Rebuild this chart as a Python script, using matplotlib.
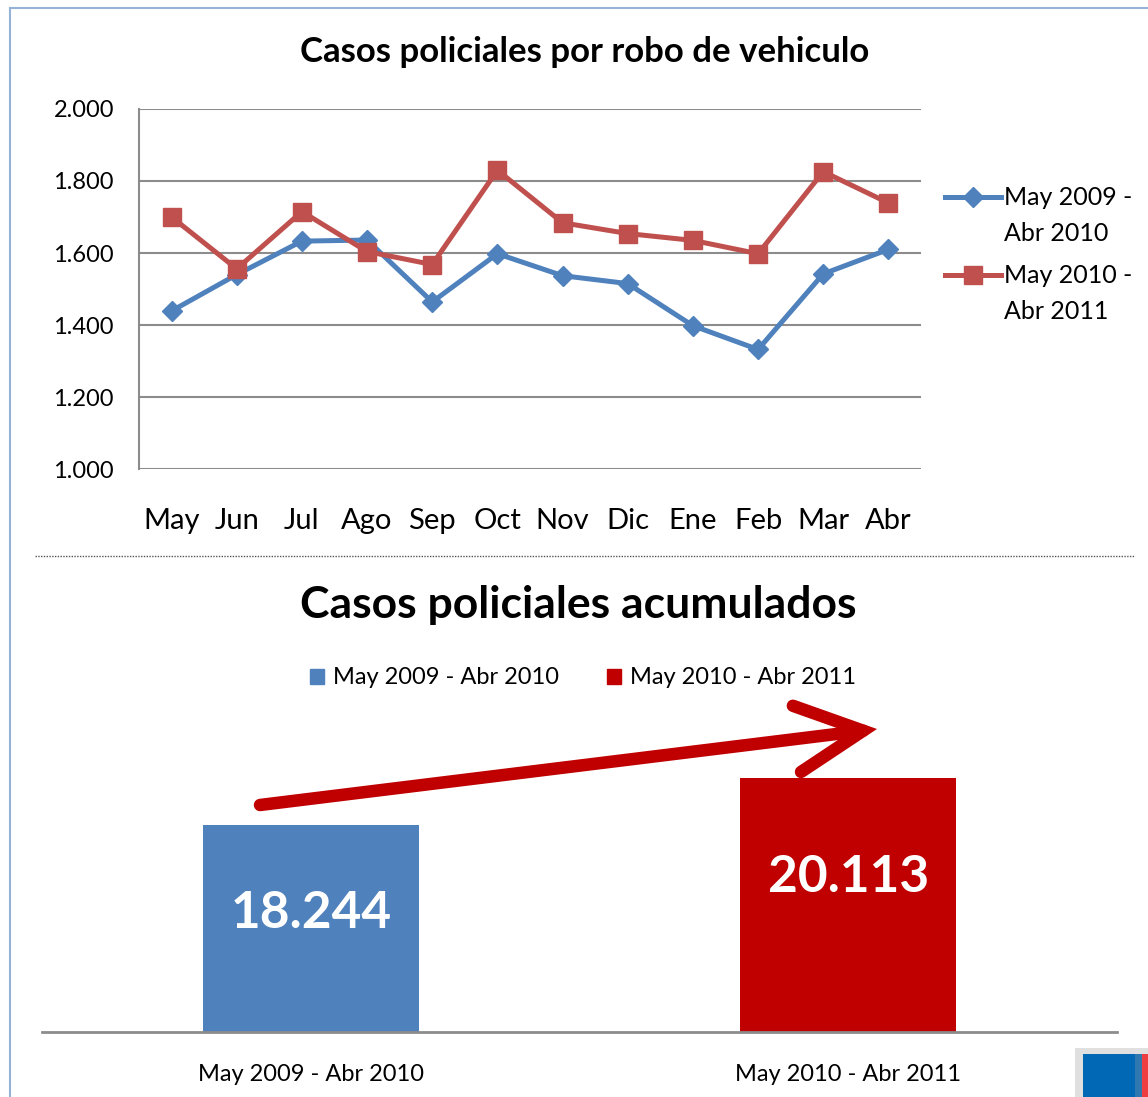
import matplotlib
matplotlib.use("Agg")
import matplotlib.pyplot as plt
from matplotlib.patches import Rectangle, FancyArrowPatch
from matplotlib.lines import Line2D
from matplotlib.ticker import FuncFormatter

plt.rcParams['font.family'] = ['Lato', 'DejaVu Sans']

months = ['May', 'Jun', 'Jul', 'Ago', 'Sep', 'Oct', 'Nov', 'Dic', 'Ene', 'Feb', 'Mar', 'Abr']
serie_2009 = [1439, 1540, 1633, 1636, 1464, 1598, 1537, 1515, 1398, 1332, 1542, 1610]
serie_2010 = [1700, 1556, 1715, 1604, 1568, 1830, 1684, 1654, 1635, 1598, 1826, 1739]
legend_top = ['May 2009 -\nAbr 2010', 'May 2010 -\nAbr 2011']
periodos = ['May 2009 - Abr 2010', 'May 2010 - Abr 2011']
totales = [18244, 20113]

W, H = 1148, 1097
fig = plt.figure(figsize=(W / 100, H / 100), dpi=100)


def px_axes(x0, y0, x1, y1):
    # pixel box (top-left origin) -> figure fraction
    return fig.add_axes([x0 / W, 1 - y1 / H, (x1 - x0) / W, (y1 - y0) / H])


def fx(px):
    return px / W


def fy(py):
    return 1 - py / H


blue = '#4F81BD'
red = '#C0504D'
dark_red = '#C00000'

# ---- top line chart
ax = px_axes(139, 109, 921, 469)
x = range(len(months))
ax.plot(x, serie_2009, color=blue, lw=3.6, marker='D', ms=10)
ax.plot(x, serie_2010, color=red, lw=3.6, marker='s', ms=13)
ax.set_xlim(-0.5, 11.5)
ax.set_ylim(1000, 2000)
ax.set_yticks(range(1000, 2001, 200))
ax.yaxis.set_major_formatter(FuncFormatter(lambda v, p: f'{int(v):,}'.replace(',', '.')))
ax.set_xticks(list(x))
ax.set_xticklabels(months, fontsize=21)
ax.tick_params(axis='y', labelsize=17, length=0, pad=18)
ax.tick_params(axis='x', length=0, pad=28)
ax.grid(axis='y', color='#8c8c8c', lw=1.5)
ax.set_axisbelow(True)
for s in ['top', 'right', 'bottom']:
    ax.spines[s].set_visible(False)
ax.spines['left'].set_color('#8c8c8c')
ax.spines['left'].set_linewidth(1.5)
fig.text(fx(585), fy(52), 'Casos policiales por robo de vehiculo', ha='center', va='center',
         fontsize=25, fontweight='bold')

# legend of the line chart, laid out by hand
for (ly, col, mk, ms, lab) in [(197, blue, 'D', 10, legend_top[0]), (275, red, 's', 13, legend_top[1])]:
    fig.add_artist(Line2D([fx(945), fx(1001)], [fy(ly), fy(ly)], color=col, lw=3.6))
    fig.add_artist(Line2D([fx(973)], [fy(ly)], color=col, marker=mk, ms=ms, lw=0))
    fig.text(fx(1004), fy(ly - 11), lab, ha='left', va='top', fontsize=18, linespacing=1.7)

# ---- bottom bar chart
ax2 = px_axes(42, 700, 1117, 1032)
ax2.bar([0, 1], totales, width=0.402, color=[blue, dark_red])
ax2.set_xlim(-0.5, 1.5)
ax2.set_ylim(10000, 23200)
ax2.set_yticks([])
ax2.set_xticks([0, 1])
ax2.set_xticklabels(periodos, fontsize=17)
ax2.tick_params(axis='x', length=0, pad=23)
for s in ['top', 'right', 'left']:
    ax2.spines[s].set_visible(False)
ax2.spines['bottom'].set_color('#8c8c8c')
ax2.spines['bottom'].set_linewidth(2)
for i, (v, py) in enumerate(zip(totales, [914, 878])):
    fig.text(ax2.transData.transform((i, 0))[0] / W, fy(py), f'{v:,}'.replace(',', '.'),
             ha='center', va='center', color='white', fontsize=37, fontweight='bold')

fig.text(fx(578), fy(605), 'Casos policiales acumulados', ha='center', va='center',
         fontsize=32, fontweight='bold')
handles = [Rectangle((0, 0), 1, 1, color=blue), Rectangle((0, 0), 1, 1, color=dark_red)]
fig.legend(handles, periodos, loc='center', bbox_to_anchor=(fx(583), fy(678)), ncol=2,
           frameon=False, fontsize=17, handlelength=0.6, handleheight=0.6, handletextpad=0.4,
           columnspacing=2.0)

# trend arrow
fig.add_artist(FancyArrowPatch(
    (fx(260), fy(805)), (fx(877), fy(729)), transform=fig.transFigure,
    arrowstyle='->,head_length=1.6,head_width=0.8', mutation_scale=30,
    shrinkA=0, shrinkB=0, color=dark_red, lw=9, capstyle='round', joinstyle='miter'))

# decorations: frame, separator, corner logo
fig.add_artist(Line2D([fx(10), 1], [fy(8), fy(8)], color='#95b3d7', lw=1.5))
fig.add_artist(Line2D([fx(10), fx(10)], [0, fy(8)], color='#95b3d7', lw=1.5))
fig.add_artist(Line2D([fx(35), fx(1135)], [fy(556), fy(556)], color='#555555',
                      lw=1, ls=(0, (1, 1))))
for x0, y0, x1, c in [(1075, 1048, 1148, '#e0e0e0'), (1083, 1054, 1135, '#0068b4'),
                      (1135, 1054, 1142, '#2f78b0'), (1142, 1054, 1148, '#ef3e42')]:
    fig.add_artist(Rectangle((fx(x0), 0), (x1 - x0) / W, (H - y0) / H,
                             transform=fig.transFigure, color=c, lw=0))

fig.savefig('out.png', dpi=100)
